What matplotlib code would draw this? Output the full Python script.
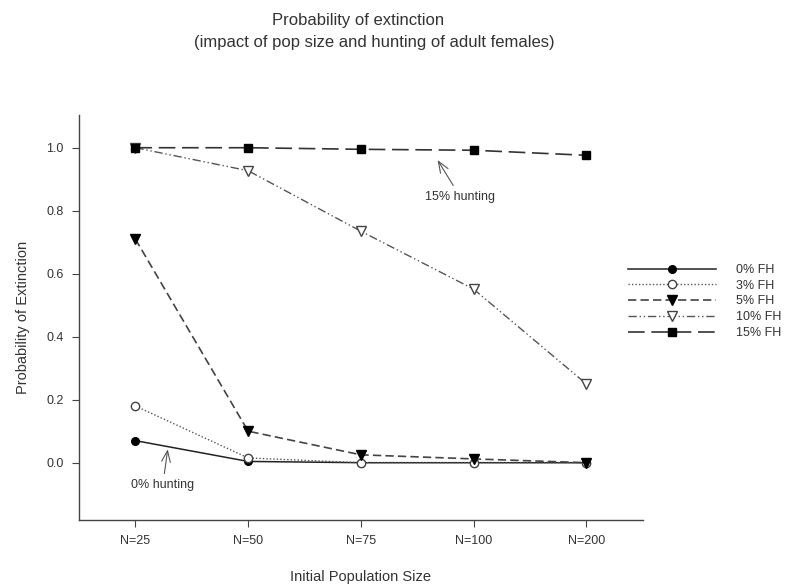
import matplotlib
matplotlib.use("Agg")
from matplotlib import pyplot as plt
import numpy as np

plt.rcParams['font.family'] = ['Liberation Sans', 'DejaVu Sans']

sizes = ["N=25", "N=50", "N=75", "N=100", "N=200"]
fh0 = [0.07, 0.004, 0.0, 0.0, 0.0]
fh3 = [0.18, 0.015, 0.0, 0.0, 0.0]
fh5 = [0.71, 0.10, 0.025, 0.012, 0.0]
fh10 = [1.0, 0.927, 0.735, 0.551, 0.25]
fh15 = [1.0, 1.0, 0.995, 0.992, 0.976]

fig = plt.figure(figsize=(7.94, 5.86), dpi=100)
ax = fig.add_axes([0.0995, 0.1126, 0.71, 0.6912])
x = np.arange(len(sizes))

ax.plot(x, fh0, color='#222222', lw=1.1, ls='-', marker='o', ms=5.5,
        mfc='black', mec='black', label='0% FH')
ax.plot(x, fh3, color='#555555', lw=1.0, ls=(0, (1, 1.5)), marker='o', ms=6,
        mfc='white', mec='#444444', label='3% FH')
ax.plot(x, fh5, color='#444444', lw=1.2, ls=(0, (5, 2.5)), marker='v', ms=7,
        mfc='black', mec='black', label='5% FH')
ax.plot(x, fh10, color='#555555', lw=1.0, ls=(0, (6, 2, 1, 2, 1, 2)), marker='v',
        ms=7, mfc='white', mec='#444444', label='10% FH')
ax.plot(x, fh15, color='#333333', lw=1.2, ls=(0, (10, 4)), marker='s', ms=6,
        mfc='black', mec='black', label='15% FH')

ax.set_xlim(-0.5, 4.5)
ax.set_ylim(-0.182, 1.104)
ax.set_xticks(x)
ax.set_xticklabels(sizes)
ax.set_yticks([0.0, 0.2, 0.4, 0.6, 0.8, 1.0])
ax.set_yticklabels(["0.0", "0.2", "0.4", "0.6", "0.8", "1.0"])
ax.spines['top'].set_visible(False)
ax.spines['right'].set_visible(False)
for s in ['left', 'bottom']:
    ax.spines[s].set_color('#444444')
    ax.spines[s].set_linewidth(1.0)
ax.tick_params(axis='both', labelsize=9, colors='#444444', labelcolor='#333333',
               length=5, width=0.8, pad=6)

ax.set_xlabel("Initial Population Size", fontsize=10.5, color='#333333', labelpad=16)
ax.set_ylabel("Probability of Extinction", fontsize=10.5, color='#333333', labelpad=12)

ax.annotate("15% hunting", xy=(2.68, 0.961), xytext=(2.88, 0.845),
            fontsize=9, color='#333333', ha='center', va='center',
            arrowprops=dict(arrowstyle='->, head_length=0.9, head_width=0.35',
                            color='#555555', lw=0.8, shrinkB=0, shrinkA=2))
ax.annotate("0% hunting", xy=(0.287, 0.043), xytext=(0.243, -0.071),
            fontsize=9, color='#333333', ha='center', va='center',
            arrowprops=dict(arrowstyle='->, head_length=0.9, head_width=0.35',
                            color='#555555', lw=0.8, shrinkB=0, shrinkA=2))

ax.legend(loc='upper left', bbox_to_anchor=(0.954, 0.66), frameon=False,
          fontsize=9, handlelength=7.0, labelspacing=0.3, handletextpad=1.6,
          labelcolor='#333333')

fig.text(358 / 794, 1 - 21 / 586, "Probability of extinction", ha='center',
         va='center', fontsize=12, color='#333333')
fig.text(374 / 794, 1 - 43 / 586,
         "(impact of pop size and hunting of adult females)", ha='center',
         va='center', fontsize=12, color='#333333')

fig.savefig('out.png', dpi=100)
